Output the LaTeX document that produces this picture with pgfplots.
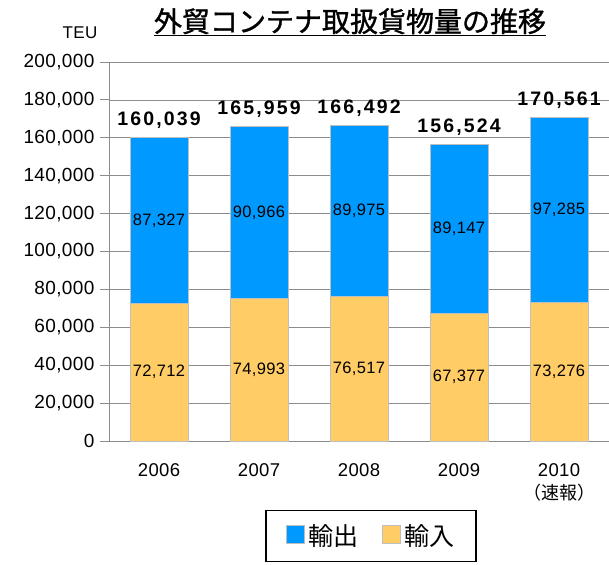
\documentclass[border=0pt]{standalone}
\usepackage{pgfplots}
\pgfplotsset{compat=1.18}
\usetikzlibrary{calc}
\usepackage{fontspec}
\setmainfont{Noto Sans CJK JP}
\newfontfamily\titlefont[FakeBold=1.2]{Noto Sans CJK JP}
\newfontfamily\numA[LetterSpace=2]{Liberation Sans}
\newfontfamily\numB[LetterSpace=11]{Liberation Sans}
\definecolor{expblue}{HTML}{0099FF}
\definecolor{imporange}{HTML}{FFCC66}
\definecolor{edgegray}{HTML}{BEBEBE}
\definecolor{gridgray}{HTML}{8C8C8C}
\begin{document}
\begin{tikzpicture}
\pgfplotsset{
  common/.style={
    width=500pt, height=379pt, scale only axis,
    xmin=-0.5, xmax=4.5, ymin=0, ymax=200000,
  }
}
\begin{axis}[common, name=main,
  ybar stacked, bar width=58pt,
  axis x line*=bottom, axis y line*=left,
  axis line style={gridgray, line width=1pt, -},
  ytick={0,20000,...,200000},
  yticklabel style={font=\numA\fontsize{19}{19}\selectfont, xshift=-2pt},
  /pgf/number format/assume math mode=true,
  scaled y ticks=false,
  yticklabel={\pgfmathprintnumber[fixed,1000 sep={,}]{\tick}},
  ymajorgrids, grid style={gridgray, line width=0.6pt},
  tick style={gridgray, line width=0.8pt},
  major tick length=9pt,
  tick align=outside,
  xtick={0,...,4},
  xticklabels={2006,2007,2008,2009,{2010\\{\normalfont\fontsize{18}{18}\selectfont （速報）}}},
  xticklabel style={font=\numA\fontsize{18.5}{23}\selectfont, align=center, yshift=-10pt},
  extra x ticks={-0.5,0.5,1.5,2.5,3.5,4.5},
  extra x tick labels={},
  extra x tick style={major tick length=7pt, tick style={gridgray}},
  major x tick style={draw=none},
  reverse legend,
  legend style={at={(0.524,-0.182)}, anchor=north, draw=black, line width=1.2pt,
    legend columns=2, font=\fontsize{25}{25}\selectfont,
    /tikz/every even column/.append style={column sep=22pt},
    /tikz/every odd column/.append style={column sep=1pt},
    inner xsep=20pt, inner ysep=12pt},
  legend image code/.code={\fill[#1] (0pt,-8pt) rectangle (18pt,10pt);},
  clip=false,
]
\addplot[fill=imporange, draw=edgegray, line width=1pt] coordinates {(0,72712) (1,74993) (2,76517) (3,67377) (4,73276)};
\addplot[fill=expblue, draw=edgegray, line width=1pt] coordinates {(0,87327) (1,90966) (2,89975) (3,89147) (4,97285)};
\legend{輸入,輸出}
\end{axis}
\begin{axis}[common, axis lines=none, clip=false]
\addplot[only marks, mark=none, nodes near coords, point meta=explicit symbolic,
  nodes near coords align=center,
  every node near coord/.append style={font=\numA\fontsize{16.5}{16.5}\selectfont, anchor=center}]
  coordinates {(0,36356)[72,712] (1,37497)[74,993] (2,38259)[76,517] (3,33689)[67,377] (4,36638)[73,276]
               (0,116376)[87,327] (1,120476)[90,966] (2,121505)[89,975] (3,111951)[89,147] (4,121919)[97,285]};
\addplot[only marks, mark=none, nodes near coords, point meta=explicit symbolic,
  every node near coord/.append style={font=\numB\bfseries\fontsize{19.5}{19.5}\selectfont, anchor=south, yshift=9pt, inner sep=0pt}]
  coordinates {(0,160039)[160,039] (1,165959)[165,959] (2,166492)[166,492] (3,156524)[156,524] (4,170561)[170,561]};
\node[anchor=center, font=\titlefont\fontsize{28}{28}\selectfont] at (rel axis cs:0.482,1.105) {\underline{外貿コンテナ取扱貨物量の推移}};
\node[anchor=center, font=\numA\fontsize{17}{17}\selectfont] at (rel axis cs:-0.058,1.077) {TEU};
\end{axis}
\pgfresetboundingbox
\path ($(main.south west)+(-109pt,-123pt)$) rectangle ($(main.north east)+(0pt,62pt)$);
\end{tikzpicture}
\end{document}
